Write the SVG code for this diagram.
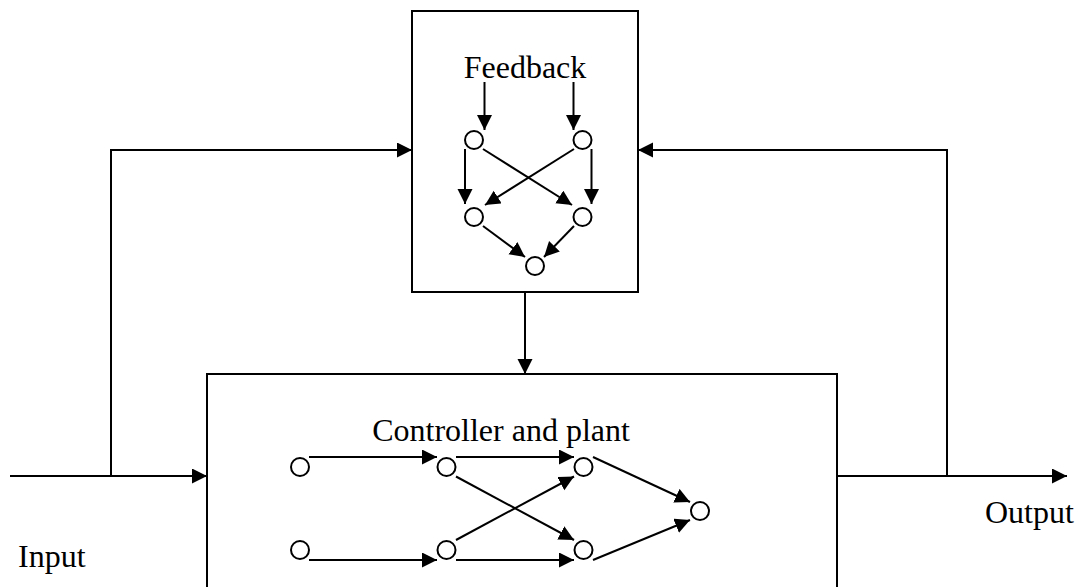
<svg xmlns="http://www.w3.org/2000/svg" width="1077" height="587" viewBox="0 0 1077 587">
<style>
.box{fill:#fff;stroke:#000;stroke-width:2}
.n{fill:#fff;stroke:#000;stroke-width:2}
.e{fill:none;stroke:#000;stroke-width:2;marker-end:url(#ah)}
.l{fill:none;stroke:#000;stroke-width:2}
text{font-family:"Liberation Serif","Times New Roman",serif;font-size:32px;fill:#000}
</style>
<defs>
<marker id="ah" markerUnits="userSpaceOnUse" markerWidth="16" markerHeight="16" refX="15" refY="7.5" orient="auto" viewBox="0 0 16 16">
<path d="M0,0 L15,7.5 L0,15 z" fill="#000"/>
</marker>
</defs>
<rect width="1077" height="587" fill="#fff"/>
<g id="feedback-box">
<rect class="box" x="412" y="11" width="226" height="281"/>
<text x="525" y="78" text-anchor="middle">Feedback</text>
</g>
<g id="controller-box">
<rect class="box" x="207" y="374" width="630" height="230"/>
<text x="501" y="441" text-anchor="middle">Controller and plant</text>
</g>
<g id="input-label"><text x="18" y="567">Input</text></g>
<g id="output-label"><text x="985" y="523">Output</text></g>
<g id="feedback-nodes">
<circle class="n" cx="474" cy="140" r="9"/>
<circle class="n" cx="582.5" cy="140" r="9"/>
<circle class="n" cx="474" cy="217" r="9"/>
<circle class="n" cx="582.5" cy="217" r="9"/>
<circle class="n" cx="535" cy="266" r="9"/>
</g>
<g id="controller-nodes">
<circle class="n" cx="300" cy="467" r="9"/>
<circle class="n" cx="300" cy="550" r="9"/>
<circle class="n" cx="446.5" cy="467" r="9"/>
<circle class="n" cx="446.5" cy="550" r="9"/>
<circle class="n" cx="583.5" cy="467" r="9"/>
<circle class="n" cx="583.5" cy="550" r="9"/>
<circle class="n" cx="700" cy="511" r="9"/>
</g>
<g id="connectors">
<!-- outer -->
<path class="e" d="M10,476 H207"/>
<path class="e" d="M111,476 V150 H412"/>
<path class="e" d="M837,476 H1067"/>
<path class="e" d="M947,476 V150 H638"/>
<path class="e" d="M525,292 V374"/>
<!-- feedback inner -->
<path class="e" d="M484.5,82 V130"/>
<path class="e" d="M573.5,82 V130"/>
<path class="e" d="M465,149 V204"/>
<path class="e" d="M591.5,149 V204"/>
<path class="e" d="M483,149 L572,205"/>
<path class="e" d="M574,149 L485,205"/>
<path class="e" d="M483,226 L525,257"/>
<path class="e" d="M574,226 L544,257"/>
<!-- controller inner -->
<path class="e" d="M309,457 H437"/>
<path class="e" d="M309,560 H437"/>
<path class="e" d="M456,457 H574"/>
<path class="e" d="M456,560 H574"/>
<path class="e" d="M456,476.5 L574,540"/>
<path class="e" d="M456,540 L574,476.5"/>
<path class="e" d="M593,457 L690,502"/>
<path class="e" d="M593,560 L690,520"/>
</g>
</svg>
